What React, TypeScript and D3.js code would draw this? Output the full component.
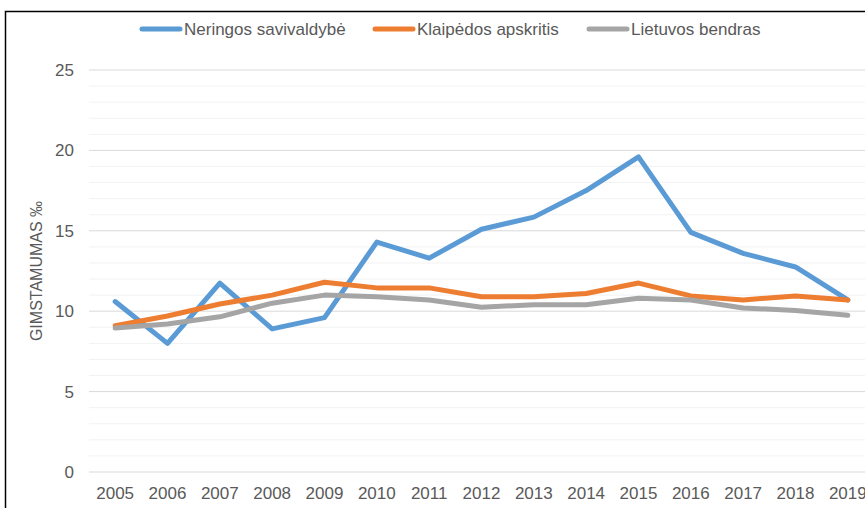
import * as d3 from "d3";

const years = ["2005", "2006", "2007", "2008", "2009", "2010", "2011", "2012", "2013", "2014", "2015", "2016", "2017", "2018", "2019"];
const neringa = [10.6, 8.0, 11.75, 8.9, 9.6, 14.3, 13.3, 15.1, 15.85, 17.5, 19.6, 14.9, 13.6, 12.75, 10.7];
const klaipeda = [9.1, 9.7, 10.45, 11.0, 11.8, 11.45, 11.45, 10.9, 10.9, 11.1, 11.75, 10.95, 10.7, 10.95, 10.7];
const lietuva = [8.95, 9.2, 9.65, 10.5, 11.0, 10.9, 10.7, 10.25, 10.4, 10.4, 10.8, 10.7, 10.2, 10.05, 9.75];
const yTicks = [0, 5, 10, 15, 20, 25];

const series = [
  { name: "Neringos savivaldybė", values: neringa, color: "#5B9BD5" },
  { name: "Klaipėdos apskritis", values: klaipeda, color: "#ED7D31" },
  { name: "Lietuvos bendras", values: lietuva, color: "#A5A5A5" },
];

const W = 865;
const H = 508;
const font = "'Liberation Sans Narrow', 'Liberation Sans', sans-serif";

export default function App() {
  const x = d3.scaleBand<string>().domain(years).range([89, 874]);
  const y = d3.scaleLinear().domain([0, 25]).range([472, 70]);
  const cx = (yr: string) => (x(yr) ?? 0) + x.bandwidth() / 2;
  const line = d3
    .line<number>()
    .x((_, i) => cx(years[i]))
    .y((d) => y(d));

  // light gridlines at every unit, darker ones at the labelled ticks
  const minor = d3.range(0, 26).filter((v) => v % 5 !== 0);
  const legendX = [140, 373, 587];

  return (
    <svg width={W} height={H} style={{ position: "absolute", left: 0, top: 0 }} fontFamily={font}>
      <rect x={0} y={0} width={W} height={H} fill="#fff" />
      <rect x={5.5} y={11.5} width={W + 10} height={H + 10} fill="none" stroke="#000" strokeWidth={1.5} />

      {minor.map((v) => (
        <line key={"m" + v} x1={89} x2={W} y1={y(v)} y2={y(v)} stroke="#F2F2F2" strokeWidth={1} />
      ))}
      {yTicks.map((v) => (
        <g key={"t" + v}>
          <line x1={89} x2={W} y1={y(v)} y2={y(v)} stroke="#D9D9D9" strokeWidth={1} />
          <text x={74} y={y(v)} dy="0.35em" textAnchor="end" fontSize={17} fill="#595959">
            {v}
          </text>
        </g>
      ))}

      {years.map((yr) => (
        <text key={yr} x={cx(yr)} y={499} textAnchor="middle" fontSize={17} fill="#595959">
          {yr}
        </text>
      ))}

      <text
        transform={`translate(42,271) rotate(-90)`}
        textAnchor="middle"
        fontSize={16}
        fill="#595959"
      >
        GIMSTAMUMAS ‰
      </text>

      {series.map((s) => (
        <path
          key={s.name}
          d={line(s.values) ?? ""}
          fill="none"
          stroke={s.color}
          strokeWidth={5}
          strokeLinejoin="round"
          strokeLinecap="round"
        />
      ))}

      {series.map((s, i) => (
        <g key={"l" + s.name}>
          <line x1={legendX[i] + 2} x2={legendX[i] + 40} y1={29} y2={29} stroke={s.color} strokeWidth={5} strokeLinecap="round" />
          <text x={legendX[i] + 44} y={29} dy="0.35em" fontSize={17} fill="#595959">
            {s.name}
          </text>
        </g>
      ))}
    </svg>
  );
}
